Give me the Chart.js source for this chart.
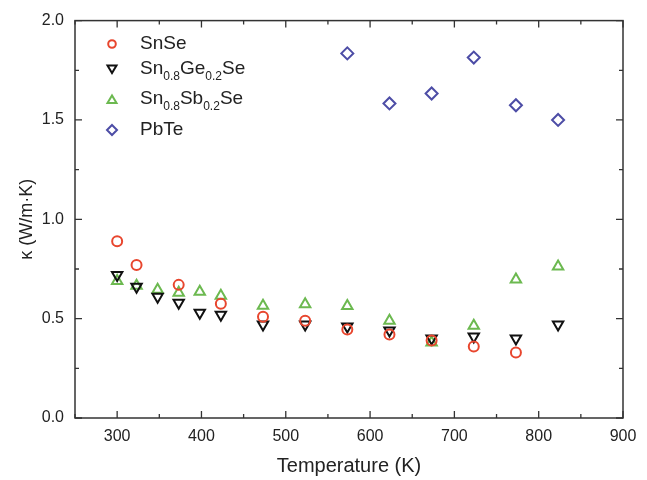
<!DOCTYPE html>
<html>
<head>
<meta charset="utf-8">
<script src="https://cdn.jsdelivr.net/npm/chart.js@4.4.1/dist/chart.umd.min.js"></script>
<style>
  html, body { margin: 0; padding: 0; background: #fff; }
  #wrap { position: relative; width: 647px; height: 480px; }
  #legend { position: absolute; left: 0; top: 0; font-family: "Liberation Sans", Arial, sans-serif; color: #222; }
  .row { position: absolute; left: 104px; height: 20px; line-height: 20px; font-size: 19px; white-space: nowrap; }
  .row svg { position: absolute; left: 0; top: 3px; }
  .row span.t { position: absolute; left: 36px; top: 0; }
  .row sub { font-size: 12px; vertical-align: baseline; position: relative; top: 6px; }
</style>
</head>
<body>
<div id="wrap">
  <canvas id="chart" width="647" height="480"></canvas>
  <div id="legend"></div>
</div>
<script>
// data
const snseT = [300, 323, 373, 423, 473, 523, 573, 623, 673, 723, 773];
const snseK = [0.89, 0.77, 0.67, 0.575, 0.51, 0.49, 0.445, 0.42, 0.39, 0.36, 0.33];

const geT = [300, 323, 348, 373, 398, 423, 473, 523, 573, 623, 673, 723, 773, 823];
const geK = [0.72, 0.66, 0.61, 0.58, 0.53, 0.52, 0.47, 0.47, 0.46, 0.44, 0.40, 0.41, 0.40, 0.47];

const sbT = [300, 323, 348, 373, 398, 423, 473, 523, 573, 623, 673, 723, 773, 823];
const sbK = [0.69, 0.665, 0.645, 0.63, 0.635, 0.615, 0.565, 0.572, 0.564, 0.49, 0.38, 0.464, 0.697, 0.763];

const pbT = [573, 623, 673, 723, 773, 823];
const pbK = [1.835, 1.583, 1.633, 1.814, 1.574, 1.50];

const xTicks = [300, 400, 500, 600, 700, 800, 900];
const yTicks = [0.0, 0.5, 1.0, 1.5, 2.0];

// legend labels: [main, sub, main, sub, main]
const legendNames = [
  ["SnSe"],
  ["Sn", "0.8", "Ge", "0.2", "Se"],
  ["Sn", "0.8", "Sb", "0.2", "Se"],
  ["PbTe"]
];

const RED = "#e8462e", BLACK = "#111111", GREEN = "#6cb950", BLUE = "#4d4da6";

const pts = (xs, ys) => xs.map((x, i) => ({ x: x, y: ys[i] }));

// frame + inward ticks on all four sides
const framePlugin = {
  id: "frame",
  beforeDatasetsDraw(chart) {
    const { ctx, chartArea: a, scales } = chart;
    ctx.save();
    ctx.strokeStyle = "#333";
    ctx.lineWidth = 1.5;
    ctx.strokeRect(a.left, a.top, a.right - a.left, a.bottom - a.top);
    ctx.lineWidth = 1.3;
    const major = 7, minor = 4;
    const xs = scales.x, ys = scales.y;
    const xv = xs.ticks.map(t => t.value);
    const xm = xv.map(v => v - 50);
    ctx.beginPath();
    xv.concat(xm).forEach((v, i) => {
      if (v < xs.min || v > xs.max) return;
      const len = i < xv.length ? major : minor;
      const px = xs.getPixelForValue(v);
      ctx.moveTo(px, a.bottom); ctx.lineTo(px, a.bottom - len);
      ctx.moveTo(px, a.top); ctx.lineTo(px, a.top + len);
    });
    const yv = ys.ticks.map(t => t.value);
    const ym = yv.slice(1).map(v => v - 0.25);
    yv.concat(ym).forEach((v, i) => {
      const len = i < yv.length ? major : minor;
      const py = ys.getPixelForValue(v);
      ctx.moveTo(a.left, py); ctx.lineTo(a.left + len, py);
      ctx.moveTo(a.right, py); ctx.lineTo(a.right - len, py);
    });
    ctx.stroke();
    ctx.restore();
  }
};

const tickFont = { family: "Liberation Sans", size: 16 };

new Chart(document.getElementById("chart"), {
  type: "scatter",
  data: {
    datasets: [
      { label: "SnSe", data: pts(snseT, snseK), pointStyle: "circle", pointRadius: 5,
        borderColor: RED, backgroundColor: "rgba(0,0,0,0)", pointBorderWidth: 2 },
      { label: "Sn0.8Ge0.2Se", data: pts(geT, geK), pointStyle: "triangle", pointRotation: 180, pointRadius: 6,
        borderColor: BLACK, backgroundColor: "rgba(0,0,0,0)", pointBorderWidth: 2 },
      { label: "Sn0.8Sb0.2Se", data: pts(sbT, sbK), pointStyle: "triangle", pointRadius: 6,
        borderColor: GREEN, backgroundColor: "rgba(0,0,0,0)", pointBorderWidth: 2 },
      { label: "PbTe", data: pts(pbT, pbK), pointStyle: "rectRot", pointRadius: 6,
        borderColor: BLUE, backgroundColor: "rgba(0,0,0,0)", pointBorderWidth: 2 }
    ]
  },
  options: {
    responsive: false,
    animation: false,
    layout: { padding: { top: 17, right: 24, left: 0, bottom: 0 } },
    plugins: { legend: { display: false }, tooltip: { enabled: false } },
    scales: {
      x: {
        type: "linear", min: 250, max: 900,
        afterFit: s => { s.height = 62; },
        afterBuildTicks: s => { s.ticks = xTicks.map(v => ({ value: v })); },
        grid: { display: false, drawTicks: false },
        border: { display: false },
        ticks: { padding: 9, color: "#222", font: tickFont, includeBounds: false },
        title: { display: true, text: "Temperature (K)", color: "#222",
                 font: { family: "Liberation Sans", size: 20 }, padding: { top: 0, bottom: 2 } }
      },
      y: {
        type: "linear", min: 0, max: 2,
        afterFit: s => { s.width = 75; },
        afterBuildTicks: s => { s.ticks = yTicks.map(v => ({ value: v })); },
        grid: { display: false, drawTicks: false },
        border: { display: false },
        ticks: { padding: 11, color: "#222", font: tickFont, callback: v => v.toFixed(1) },
        title: { display: true, text: "κ (W/m·K)", color: "#222",
                 font: { family: "Liberation Sans", size: 18 }, padding: { top: 16, bottom: 0 } }
      }
    }
  },
  plugins: [framePlugin]
});

// HTML legend (needs subscripts)
const markers = [
  `<svg width="16" height="16"><circle cx="8" cy="8" r="3.8" fill="none" stroke="${RED}" stroke-width="2"/></svg>`,
  `<svg width="16" height="16"><polygon points="3.5,4.5 12.5,4.5 8,12" fill="none" stroke="${BLACK}" stroke-width="2"/></svg>`,
  `<svg width="16" height="16"><polygon points="3.5,12 12.5,12 8,4.5" fill="none" stroke="${GREEN}" stroke-width="2"/></svg>`,
  `<svg width="16" height="16"><polygon points="8,3 13,8 8,13 3,8" fill="none" stroke="${BLUE}" stroke-width="2"/></svg>`
];
const rowCenters = [43, 68, 98, 129];
const legend = document.getElementById("legend");
legendNames.forEach((parts, i) => {
  const row = document.createElement("div");
  row.className = "row";
  row.style.top = (rowCenters[i] - 10) + "px";
  const txt = parts.map((p, j) => j % 2 ? `<sub>${p}</sub>` : p).join("");
  row.innerHTML = markers[i] + `<span class="t">${txt}</span>`;
  legend.appendChild(row);
});
</script>
</body>
</html>
